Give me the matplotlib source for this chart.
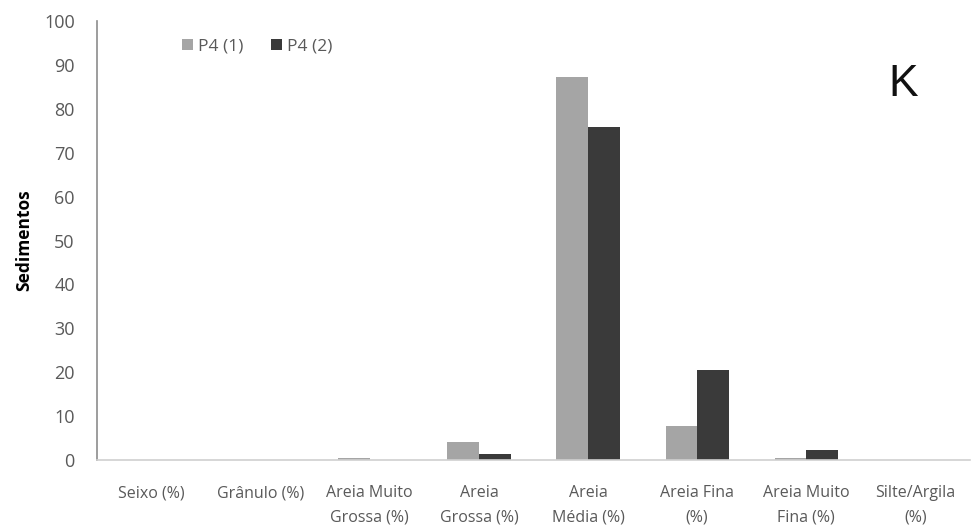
import matplotlib
matplotlib.use("Agg")
import matplotlib.pyplot as plt
import numpy as np

categories = ["Seixo (%)", "Grânulo (%)", "Areia Muito\nGrossa (%)", "Areia\nGrossa (%)",
              "Areia\nMédia (%)", "Areia Fina\n(%)", "Areia Muito\nFina (%)", "Silte/Argila\n(%)"]
p4_1 = [0, 0, 0.5, 4.2, 87.3, 7.7, 0.5, 0]
p4_2 = [0, 0, 0, 1.3, 75.8, 20.5, 2.2, 0]
yticks = [0, 10, 20, 30, 40, 50, 60, 70, 80, 90, 100]

plt.rcParams['font.family'] = ['Open Sans', 'DejaVu Sans']

fig = plt.figure(figsize=(9.76, 5.31), dpi=100)
ax = fig.add_axes([97/976, 71/531, 873/976, 439/531])

x = np.arange(len(categories))
w = 0.29
ax.bar(x - w/2, p4_1, w, color='#A5A5A5', label='P4 (1)')
ax.bar(x + w/2, p4_2, w, color='#3A3A3A', label='P4 (2)')

ax.set_xlim(-0.5, len(categories) - 0.5)
ax.set_ylim(0, 100)
ax.set_yticks(yticks)
ax.set_xticks(x)
ax.set_xticklabels(categories, fontsize=11.5, color='#595959', linespacing=1.7)
ax.tick_params(axis='y', labelsize=13, labelcolor='#595959', length=0, pad=16)
ax.tick_params(axis='x', length=0, pad=18)

for s in ['top', 'right']:
    ax.spines[s].set_visible(False)
ax.spines['left'].set_color('#8C8C8C')
ax.spines['left'].set_linewidth(1.2)
ax.spines['bottom'].set_color('#D0D0D0')
ax.spines['bottom'].set_linewidth(1.2)

ax.set_ylabel('Sedimentos', fontsize=12.5, fontweight='bold', color='#000000', labelpad=8)

leg = ax.legend(loc='upper left', bbox_to_anchor=(0.08, 0.995), ncol=2, frameon=False,
                fontsize=12.5, handlelength=0.6, handleheight=0.6, handletextpad=0.3,
                columnspacing=1.6)
for t in leg.get_texts():
    t.set_color('#595959')

fig.text(903/976, 1 - 85/531, 'K', fontsize=32, family='Liberation Sans',
         ha='center', va='center', color='#111111')

fig.savefig('out.png', dpi=100)
